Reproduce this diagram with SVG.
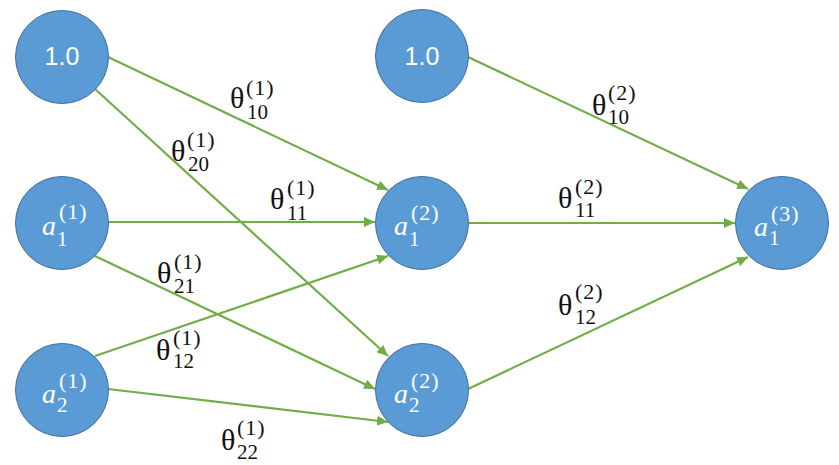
<svg xmlns="http://www.w3.org/2000/svg" width="839" height="465" viewBox="0 0 839 465">
<defs>
<marker id="arr" markerUnits="userSpaceOnUse" markerWidth="12" markerHeight="10" refX="11" refY="5" orient="auto">
<path d="M0,0 L11,5 L0,10 Z" fill="#70AD47"/>
</marker>
<style>
.node circle{fill:#5B9BD5;stroke:#41719C;stroke-width:1}
.num{font-family:"Liberation Sans",Arial,sans-serif;font-size:25px;fill:#fff;text-anchor:middle}
.nl{font-family:"Liberation Serif","Times New Roman",serif;fill:#fff}
.nl .a{font-size:28px;font-style:italic}
.nl .s{font-size:21px}
.nl .p{font-size:22px;letter-spacing:1px}
.edges line{stroke:#70AD47;stroke-width:2.2;marker-end:url(#arr)}
.th{font-family:"Liberation Serif","Times New Roman",serif;fill:#111}
.th .t{font-size:30px}
.th .s{font-size:21px}
.th .p{font-size:22px;letter-spacing:1px}
</style>
</defs>
<rect width="839" height="465" fill="#fff"/>
<g id="edges" class="edges">
<line x1="108" y1="57" x2="388" y2="190"/>
<line x1="95" y1="89" x2="388" y2="356"/>
<line x1="108" y1="222" x2="375" y2="222"/>
<line x1="95" y1="256" x2="375" y2="389"/>
<line x1="95" y1="356" x2="388" y2="256"/>
<line x1="108" y1="389" x2="388" y2="422"/>
<line x1="468" y1="57" x2="748" y2="189"/>
<line x1="469" y1="223" x2="735" y2="223"/>
<line x1="468" y1="389" x2="748" y2="257"/>
</g>
<g id="n_in_bias" class="node"><circle cx="62" cy="57" r="46.5"/><text class="num" x="62" y="65">1.0</text></g>
<g id="n_a11" class="node"><circle cx="62" cy="223" r="46.5"/><text class="nl"><tspan class="a" x="42" y="235">a</tspan><tspan class="s" x="57" y="246">1</tspan><tspan class="p" x="59" y="219">(1)</tspan></text></g>
<g id="n_a21" class="node"><circle cx="62" cy="390" r="46.5"/><text class="nl"><tspan class="a" x="42" y="403">a</tspan><tspan class="s" x="57" y="412">2</tspan><tspan class="p" x="59" y="388">(1)</tspan></text></g>
<g id="n_hid_bias" class="node"><circle cx="422" cy="56" r="46.5"/><text class="num" x="422" y="65">1.0</text></g>
<g id="n_a12" class="node"><circle cx="422" cy="223" r="46.5"/><text class="nl"><tspan class="a" x="394" y="235">a</tspan><tspan class="s" x="409" y="246">1</tspan><tspan class="p" x="411" y="220">(2)</tspan></text></g>
<g id="n_a22" class="node"><circle cx="422" cy="390" r="46.5"/><text class="nl"><tspan class="a" x="394" y="403">a</tspan><tspan class="s" x="409" y="412">2</tspan><tspan class="p" x="411" y="388">(2)</tspan></text></g>
<g id="n_a13" class="node"><circle cx="782" cy="223" r="46.5"/><text class="nl"><tspan class="a" x="754" y="236">a</tspan><tspan class="s" x="769" y="245">1</tspan><tspan class="p" x="771" y="221">(3)</tspan></text></g>
<g id="labels">
<text class="th"><tspan class="t" x="230" y="108">θ</tspan><tspan class="s" x="247" y="119">10</tspan><tspan class="p" x="246" y="95">(1)</tspan></text>
<text class="th"><tspan class="t" x="171" y="161">θ</tspan><tspan class="s" x="188" y="171">20</tspan><tspan class="p" x="187" y="147">(1)</tspan></text>
<text class="th"><tspan class="t" x="270" y="209">θ</tspan><tspan class="s" x="287" y="220">11</tspan><tspan class="p" x="287" y="195">(1)</tspan></text>
<text class="th"><tspan class="t" x="157" y="283">θ</tspan><tspan class="s" x="174" y="293">21</tspan><tspan class="p" x="174" y="269">(1)</tspan></text>
<text class="th"><tspan class="t" x="156" y="360">θ</tspan><tspan class="s" x="173" y="368">12</tspan><tspan class="p" x="173" y="345">(1)</tspan></text>
<text class="th"><tspan class="t" x="221" y="450">θ</tspan><tspan class="s" x="237" y="459">22</tspan><tspan class="p" x="237" y="435">(1)</tspan></text>
<text class="th"><tspan class="t" x="592" y="115">θ</tspan><tspan class="s" x="608" y="124">10</tspan><tspan class="p" x="608" y="100">(2)</tspan></text>
<text class="th"><tspan class="t" x="558" y="208">θ</tspan><tspan class="s" x="575" y="217">11</tspan><tspan class="p" x="575" y="194">(2)</tspan></text>
<text class="th"><tspan class="t" x="558" y="315">θ</tspan><tspan class="s" x="575" y="324">12</tspan><tspan class="p" x="575" y="299">(2)</tspan></text>
</g>
</svg>
